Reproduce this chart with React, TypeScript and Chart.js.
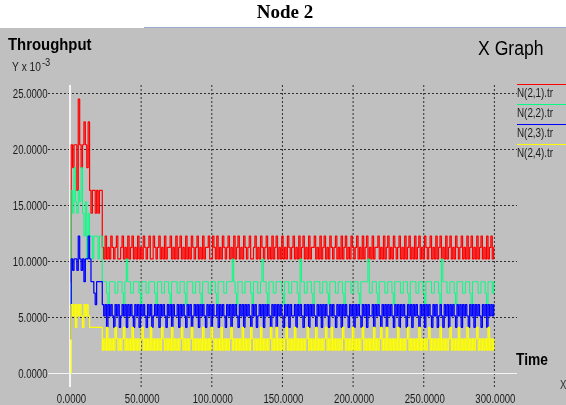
import { useEffect, useRef } from "react";
import { Chart, registerables } from "chart.js";

Chart.register(...registerables);

const CANVAS_W = 566;
const CANVAS_H = 405;
const PANEL_TOP = 28;

// one sample per second of simulated time
const SAMPLE_STEP = 1;
// throughput of one packet per sample, in units of 10^-3
const PACKET_UNIT = 1.02;

const chartTitle = "Node 2";
const yAxisTitle = "Throughput";
const xAxisTitle = "Time";
const seriesNames = ["N(2,1).tr", "N(2,2).tr", "N(2,3).tr", "N(2,4).tr"];
const seriesColors = ["#ff0000", "#00ff80", "#0000ff", "#ffff00"];
const seriesWidths = [1.2, 1, 1.25, 1.2];
const yTicks = [0, 5, 10, 15, 20, 25];
const xTicks = [0, 50, 100, 150, 200, 250, 300];

// packets received per sample, t = 0 .. 300 s
const n21Packets = [
  8, 20, 18, 20, 20, 16, 24, 20, 18, 20, 22, 20, 18, 22, 16, 14, 16, 16, 14, 16, 14, 16, 16,
  11, 10, 12, 10, 11, 10, 12, 11, 10, 11, 12, 10, 10, 11, 12, 10, 11, 10, 12, 10,
  11, 12, 10, 11, 10, 12, 10, 11, 10, 12, 11, 10, 11, 12, 10, 10, 12, 11, 10, 11,
  12, 10, 11, 10, 12, 10, 11, 11, 12, 10, 11, 10, 12, 10, 11, 12, 10, 11, 10, 12,
  10, 11, 10, 12, 11, 10, 11, 12, 10, 11, 10, 12, 10, 11, 11, 12, 10, 10, 12, 11,
  10, 12, 10, 11, 10, 12, 11, 10, 11, 12, 10, 11, 10, 12, 10, 11, 12, 10, 11, 10,
  12, 11, 10, 11, 12, 10, 10, 11, 12, 10, 11, 10, 12, 11, 10, 11, 12, 10, 11, 10,
  12, 10, 11, 12, 10, 11, 10, 12, 10, 11, 10, 12, 11, 10, 11, 12, 10, 11, 10, 12,
  10, 11, 12, 10, 11, 10, 12, 10, 11, 11, 12, 10, 11, 10, 12, 10, 11, 12, 10, 11,
  10, 12, 11, 10, 11, 12, 10, 11, 10, 12, 10, 11, 12, 10, 11, 10, 12, 11, 10, 11,
  12, 10, 11, 10, 12, 10, 11, 12, 10, 11, 10, 12, 10, 11, 11, 12, 10, 11, 10, 12,
  10, 11, 12, 10, 11, 10, 12, 11, 10, 11, 12, 10, 11, 10, 12, 10, 11, 12, 10, 11,
  10, 12, 10, 11, 12, 10, 11, 10, 12, 11, 10, 11, 12, 10, 11, 10, 12, 10, 11, 12,
  10, 11, 10, 12, 10, 11, 12, 10, 11, 10, 12, 11, 10, 11, 12, 10, 11, 10, 12, 10,
  11, 12, 10, 11, 10, 12, 10, 11, 12, 10, 11, 10, 12, 10, 11, 12, 10, 11,
];

const n22Packets = [
  6, 16, 14, 18, 15, 14, 16, 15, 18, 14, 12, 15, 10, 14, 12, 12, 10, 12, 12, 12, 10, 12, 12,
  8, 8, 8, 7, 6, 8, 8, 8, 8, 7, 7, 8, 8, 8, 7, 6, 8, 10, 8, 8,
  7, 7, 8, 8, 8, 8, 7, 6, 8, 8, 8, 7, 7, 8, 8, 8, 8, 7, 6, 8,
  8, 8, 7, 7, 8, 8, 8, 7, 6, 8, 8, 8, 8, 7, 7, 8, 8, 8, 7, 6,
  8, 8, 8, 8, 7, 7, 8, 8, 8, 7, 6, 8, 8, 8, 8, 7, 7, 8, 8, 8,
  7, 6, 8, 8, 8, 8, 7, 7, 8, 8, 8, 8, 10, 8, 7, 6, 8, 8, 8, 7,
  7, 8, 8, 8, 8, 7, 6, 8, 8, 8, 7, 7, 8, 10, 8, 8, 7, 6, 8, 8,
  8, 7, 7, 8, 8, 8, 8, 7, 6, 8, 8, 8, 7, 7, 8, 8, 8, 8, 7, 6,
  10, 8, 8, 7, 7, 8, 8, 8, 7, 6, 8, 8, 8, 8, 7, 7, 8, 8, 8, 7,
  6, 8, 8, 8, 8, 7, 7, 8, 8, 8, 7, 6, 8, 8, 8, 8, 7, 7, 8, 8,
  8, 7, 6, 8, 8, 8, 8, 8, 10, 7, 7, 8, 8, 8, 7, 6, 8, 8, 8, 8,
  7, 7, 8, 8, 8, 7, 6, 8, 8, 8, 8, 7, 7, 8, 8, 8, 7, 6, 8, 8,
  8, 8, 7, 7, 8, 8, 8, 7, 6, 8, 8, 8, 8, 7, 7, 8, 8, 8, 7, 6,
  10, 8, 8, 8, 7, 7, 8, 8, 8, 7, 6, 8, 8, 8, 8, 7, 7, 8, 8, 8,
  7, 6, 8, 8, 8, 8, 7, 7, 8, 8, 8, 7, 6, 8, 8, 8, 7, 8,
];

const n23Packets = [
  3, 10, 9, 10, 10, 9, 12, 10, 9, 10, 8, 10, 10, 12, 10, 8, 8, 7, 6, 8, 8, 8, 8,
  6, 5, 6, 4, 6, 5, 6, 5, 4, 6, 5, 6, 4, 5, 6, 5, 6, 4, 6, 5,
  6, 5, 4, 6, 5, 6, 4, 6, 5, 6, 5, 4, 6, 5, 6, 4, 5, 6, 5, 6,
  4, 6, 5, 6, 5, 4, 6, 5, 6, 4, 6, 5, 5, 6, 4, 6, 5, 6, 5, 4,
  6, 5, 6, 4, 5, 6, 5, 6, 4, 6, 5, 6, 5, 4, 6, 5, 6, 4, 6, 5,
  5, 6, 4, 6, 5, 6, 5, 4, 6, 5, 6, 4, 6, 5, 6, 5, 4, 6, 5, 6,
  4, 6, 5, 6, 5, 4, 6, 5, 6, 4, 5, 6, 5, 6, 4, 6, 5, 6, 5, 4,
  6, 5, 6, 4, 6, 5, 6, 5, 4, 6, 5, 6, 4, 6, 5, 5, 6, 4, 6, 5,
  6, 5, 4, 6, 5, 6, 4, 6, 5, 6, 5, 4, 6, 5, 6, 4, 6, 5, 6, 5,
  4, 6, 5, 6, 5, 4, 6, 5, 6, 4, 6, 5, 6, 5, 4, 6, 5, 6, 4, 6,
  5, 6, 5, 4, 6, 5, 6, 4, 6, 5, 5, 6, 4, 6, 5, 6, 5, 4, 6, 5,
  6, 4, 6, 5, 6, 5, 4, 6, 5, 6, 4, 6, 5, 6, 5, 4, 6, 5, 6, 4,
  6, 5, 6, 5, 4, 6, 5, 6, 4, 6, 5, 6, 5, 4, 6, 5, 6, 4, 5, 6,
  5, 4, 6, 5, 6, 4, 6, 5, 6, 5, 4, 6, 5, 6, 4, 6, 5, 6, 5, 4,
  6, 5, 6, 4, 6, 5, 6, 5, 4, 6, 5, 6, 4, 6, 5, 6, 5, 6,
];

const n24Packets = [
  0, 6, 5, 6, 4, 6, 5, 6, 5, 4, 6, 5, 6, 5, 4, 4, 4, 4, 4, 4, 4, 4, 4,
  2, 3, 2, 4, 2, 3, 2, 3, 2, 4, 3, 2, 3, 2, 3, 4, 2, 3, 2, 3,
  2, 4, 2, 3, 2, 3, 2, 3, 4, 2, 3, 2, 3, 2, 4, 2, 3, 2, 3, 2,
  3, 2, 4, 3, 2, 3, 2, 3, 2, 4, 2, 3, 2, 3, 2, 3, 4, 2, 3, 2,
  3, 2, 3, 4, 2, 3, 2, 3, 2, 3, 2, 4, 2, 3, 2, 3, 2, 4, 3, 2,
  3, 2, 3, 2, 4, 2, 3, 2, 3, 2, 3, 4, 2, 3, 2, 3, 2, 3, 2, 4,
  2, 3, 2, 3, 2, 4, 3, 2, 3, 2, 3, 2, 4, 2, 3, 2, 3, 2, 3, 4,
  2, 3, 2, 4, 2, 3, 2, 3, 2, 3, 4, 2, 3, 2, 3, 2, 4, 2, 3, 2,
  3, 2, 3, 2, 3, 4, 2, 3, 2, 3, 2, 4, 2, 3, 2, 3, 2, 3, 4, 2,
  3, 2, 4, 2, 3, 2, 3, 2, 3, 2, 4, 3, 2, 3, 2, 3, 2, 4, 2, 3,
  2, 3, 2, 3, 4, 2, 3, 2, 3, 2, 3, 2, 4, 2, 3, 2, 3, 4, 2, 3,
  2, 4, 2, 3, 2, 3, 2, 3, 2, 4, 2, 3, 2, 3, 2, 3, 4, 2, 3, 2,
  3, 2, 3, 2, 4, 2, 3, 2, 3, 2, 3, 4, 2, 3, 2, 3, 2, 3, 2, 4,
  2, 3, 2, 3, 2, 3, 4, 2, 3, 2, 3, 2, 4, 2, 3, 2, 3, 2, 4, 2,
  3, 2, 3, 2, 3, 4, 2, 3, 2, 3, 2, 3, 2, 4, 2, 3, 2, 3,
];

const seriesPackets = [n21Packets, n22Packets, n23Packets, n24Packets];

const SANS = "'Liberation Sans', Arial, sans-serif";
const SERIF = "'Liberation Serif', 'Times New Roman', serif";
const TEXT_COLOR = "#1a1a1a";

// Draws text squeezed horizontally, to imitate the narrow X11 fonts.
// Returns the drawn width.
function drawText(
  ctx: CanvasRenderingContext2D,
  text: string,
  x: number,
  y: number,
  font: string,
  squeeze: number,
  align: "left" | "center" | "right",
  color = TEXT_COLOR
) {
  ctx.save();
  ctx.font = font;
  ctx.fillStyle = color;
  ctx.textAlign = "left";
  ctx.textBaseline = "alphabetic";
  const w = ctx.measureText(text).width * squeeze;
  const x0 = align === "right" ? x - w : align === "center" ? x - w / 2 : x;
  ctx.translate(x0, y);
  ctx.scale(squeeze, 1);
  ctx.fillText(text, 0, 0);
  ctx.restore();
  return w;
}

const xgraphDecor = {
  id: "xgraphDecor",
  beforeDraw(chart: any) {
    const { ctx, width, height } = chart;
    ctx.save();
    ctx.fillStyle = "#ffffff";
    ctx.fillRect(0, 0, width, height);
    ctx.fillStyle = "#c0c0c0";
    ctx.fillRect(0, PANEL_TOP, width, height - PANEL_TOP);
    ctx.strokeStyle = "#9aaecb";
    ctx.lineWidth = 1;
    ctx.beginPath();
    ctx.moveTo(144, PANEL_TOP - 0.5);
    ctx.lineTo(width, PANEL_TOP - 0.5);
    ctx.stroke();
    ctx.restore();
  },
  beforeDatasetsDraw(chart: any) {
    const { ctx, chartArea } = chart;
    const xs = chart.scales.x;
    const ys = chart.scales.y;
    ctx.save();
    ctx.lineWidth = 1;
    // horizontal grid
    ctx.strokeStyle = "#303030";
    ctx.setLineDash([2, 2]);
    for (const v of yTicks) {
      if (v === 0) continue;
      const py = Math.round(ys.getPixelForValue(v)) + 0.5;
      ctx.beginPath();
      ctx.moveTo(chartArea.left, py);
      ctx.lineTo(chartArea.right, py);
      ctx.stroke();
    }
    // vertical grid
    for (const v of xTicks) {
      if (v === 0) continue;
      const px = xs.getPixelForValue(v);
      ctx.beginPath();
      ctx.moveTo(px, chartArea.top);
      ctx.lineTo(px, chartArea.bottom);
      ctx.stroke();
    }
    ctx.setLineDash([]);
    // zero axes
    ctx.strokeStyle = "#f4f4f4";
    const y0 = Math.round(ys.getPixelForValue(0)) + 0.5;
    ctx.beginPath();
    ctx.moveTo(chartArea.left, y0);
    ctx.lineTo(chartArea.right, y0);
    ctx.stroke();
    ctx.lineWidth = 2;
    const x0 = xs.getPixelForValue(0) - 0.5;
    ctx.beginPath();
    ctx.moveTo(x0, chartArea.top);
    ctx.lineTo(x0, chartArea.bottom);
    ctx.stroke();
    ctx.restore();
  },
  afterDraw(chart: any) {
    const { ctx, width } = chart;
    const xs = chart.scales.x;
    const ys = chart.scales.y;
    const tickFont = `12px ${SANS}`;

    for (const v of yTicks) {
      const py = ys.getPixelForValue(v);
      drawText(ctx, v.toFixed(4), 47.5, py + 4.5, tickFont, 0.8, "right");
    }
    for (const v of xTicks) {
      const px = xs.getPixelForValue(v);
      drawText(ctx, v.toFixed(4), px + 1, 403, tickFont, 0.8, "center");
    }

    drawText(ctx, chartTitle, width / 2 + 2, 18, `bold 19px ${SERIF}`, 1, "center", "#000000");
    drawText(ctx, yAxisTitle, 8, 50, `bold 16px ${SANS}`, 0.93, "left", "#000000");
    const unitW = drawText(ctx, "Y x 10", 12, 71, `12px ${SANS}`, 0.85, "left", "#222222");
    drawText(ctx, "-3", 12 + unitW + 1, 66, `11px ${SANS}`, 0.85, "left", "#222222");
    drawText(ctx, "X Graph", 478, 55, `20px ${SANS}`, 0.88, "left", "#000000");
    drawText(ctx, xAxisTitle, 516, 365, `bold 16px ${SANS}`, 0.86, "left", "#000000");
    drawText(ctx, "X", 560, 389, `12px ${SANS}`, 0.8, "left", "#333333");

    // legend: coloured rule with the series name under it
    const legendX = 517;
    seriesNames.forEach((name, i) => {
      const ly = 84.5 + i * 20;
      ctx.save();
      ctx.strokeStyle = seriesColors[i];
      ctx.lineWidth = 1;
      ctx.beginPath();
      ctx.moveTo(legendX, ly);
      ctx.lineTo(width, ly);
      ctx.stroke();
      ctx.restore();
      drawText(ctx, name, legendX, ly + 12.5, tickFont, 0.82, "left");
    });
  },
};

export default function App() {
  const canvasRef = useRef<HTMLCanvasElement | null>(null);

  useEffect(() => {
    document.body.style.margin = "0";
    const canvas = canvasRef.current;
    if (!canvas) return;

    const datasets = seriesPackets.map((packets, s) => ({
      label: seriesNames[s],
      data: packets.map((k, i) => ({ x: i * SAMPLE_STEP, y: k * PACKET_UNIT })),
      borderColor: seriesColors[s],
      backgroundColor: seriesColors[s],
      borderWidth: seriesWidths[s],
      borderJoinStyle: "bevel" as const,
      pointRadius: 0,
      stepped: "middle" as const,
      fill: false,
      order: seriesPackets.length - s,
    }));

    const chart = new Chart(canvas, {
      type: "line",
      data: { datasets },
      options: {
        animation: false,
        responsive: false,
        devicePixelRatio: 1,
        events: [],
        layout: { padding: { left: 48, right: 49, top: 85, bottom: 18 } },
        plugins: {
          legend: { display: false },
          title: { display: false },
          tooltip: { enabled: false },
        },
        scales: {
          x: { type: "linear", min: -15.92, max: 316, display: false },
          y: { type: "linear", min: -1.25, max: 25.74, display: false },
        },
      },
      plugins: [xgraphDecor],
    });

    return () => chart.destroy();
  }, []);

  return (
    <canvas
      ref={canvasRef}
      width={CANVAS_W}
      height={CANVAS_H}
      style={{ display: "block", width: CANVAS_W, height: CANVAS_H }}
    />
  );
}
